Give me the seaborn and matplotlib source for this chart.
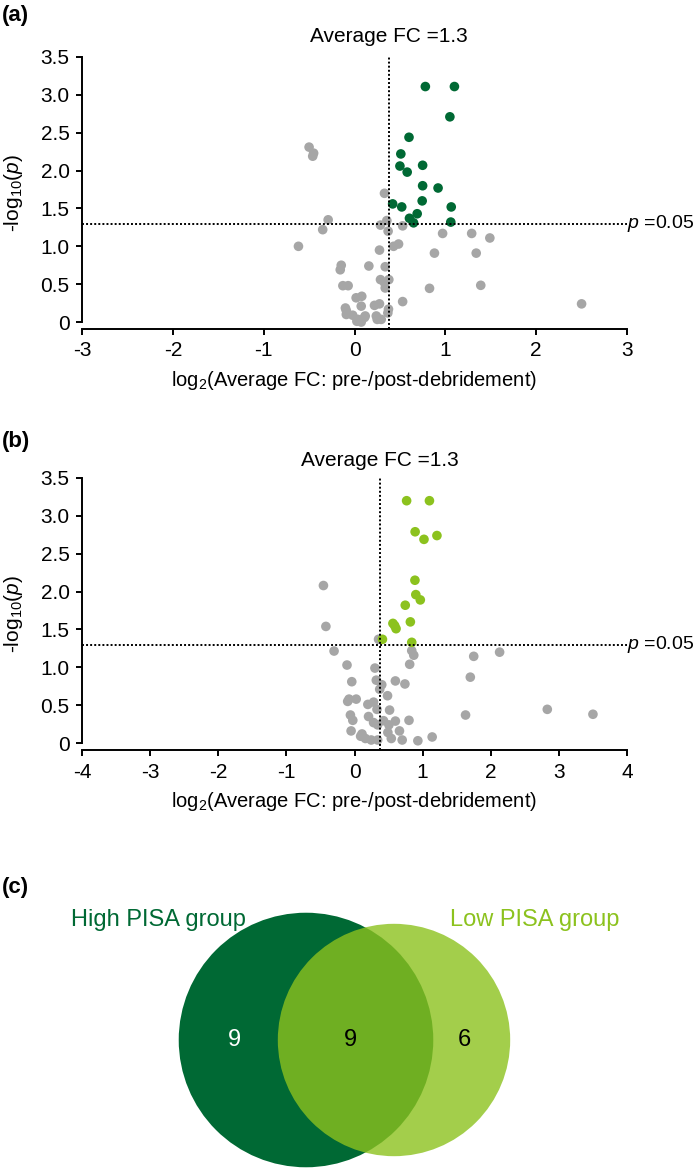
import numpy as np
import pandas as pd
import matplotlib
matplotlib.use('Agg')
import matplotlib.pyplot as plt
from matplotlib.patches import Circle
import seaborn as sns

# ---- data ----
# panel (a): high PISA group
a_sig_x = [0.78, 1.10, 1.05, 0.60, 0.51, 0.50, 0.75, 0.58, 0.75, 0.92,
           0.745, 0.42, 0.52, 1.065, 0.69, 0.605, 0.65, 1.06]
a_sig_y = [3.11, 3.11, 2.71, 2.44, 2.22, 2.06, 2.07, 1.98, 1.80, 1.77,
           1.60, 1.56, 1.52, 1.52, 1.43, 1.37, 1.31, 1.32]
a_ns_x = [-0.50, -0.45, -0.46, 0.33, -0.29, -0.35, 0.356, 0.286, 0.53, 0.37,
          0.97, 1.29, 1.49, 0.485, 0.43, 0.275, 0.88, 1.34, -0.617,
          -0.146, -0.157, 0.158, 0.338, 0.286, 0.378, -0.128, -0.07, 0.338,
          0.826, 1.39, 0.33, 0.018, 0.08, 0.53, 2.50, -0.10, 0.074, 0.22,
          0.275, 0.374, -0.09, -0.02, 0.118, 0.24, 0.294, 0.026, 0.074,
          0.25, 0.367, -0.09, 0.11, 0.037]
a_ns_y = [2.31, 2.23, 2.19, 1.70, 1.35, 1.22, 1.34, 1.28, 1.27, 1.20,
          1.17, 1.17, 1.11, 1.03, 1.00, 0.95, 0.91, 0.91, 1.00,
          0.75, 0.69, 0.74, 0.73, 0.56, 0.56, 0.48, 0.48, 0.45,
          0.445, 0.485, 0.52, 0.32, 0.34, 0.27, 0.24, 0.185, 0.21, 0.22,
          0.24, 0.17, 0.10, 0.09, 0.08, 0.08, 0.035, 0.01, 0.0,
          0.035, 0.12, 0.15, 0.06, 0.035]

# panel (b): low PISA group
b_sig_x = [0.765, 1.10, 0.89, 1.02, 1.21, 0.887, 0.90, 0.966, 0.745, 0.564,
           0.61, 0.82, 0.41, 0.84, 0.59]
b_sig_y = [3.20, 3.20, 2.79, 2.69, 2.74, 2.15, 1.96, 1.89, 1.82, 1.58,
           1.51, 1.60, 1.37, 1.33, 1.55]
b_ns_x = [-0.456, -0.42, -0.30, 0.353, 0.84, 0.87, 1.75, 2.13, -0.11, 0.30,
          0.81, 1.70, -0.04, 0.32, 0.60, 0.40, 0.37, 0.74, 0.485, -0.08,
          0.025, -0.10, 0.196, 0.28, 0.33, 0.515, 2.83, 3.50, 1.63, -0.06,
          -0.025, 0.206, 0.28, 0.34, 0.426, 0.505, 0.60, 0.80, -0.05, 0.11,
          0.16, 0.245, 0.34, 0.49, 0.54, 0.66, 0.70, 0.93, 1.14, 0.09]
b_ns_y = [2.08, 1.54, 1.215, 1.37, 1.22, 1.16, 1.145, 1.20, 1.03, 0.99,
          1.04, 0.87, 0.81, 0.83, 0.82, 0.77, 0.71, 0.78, 0.625, 0.58,
          0.58, 0.55, 0.51, 0.54, 0.445, 0.435, 0.445, 0.38, 0.37, 0.37,
          0.30, 0.35, 0.27, 0.24, 0.295, 0.24, 0.29, 0.30, 0.16, 0.12,
          0.06, 0.04, 0.04, 0.14, 0.06, 0.16, 0.04, 0.03, 0.08, 0.09]

fc_cut = 1.3
p_cut = 0.05

# panel (c): venn counts
venn_only_high = 9
venn_both = 9
venn_only_low = 6
venn_names = ['High PISA group', 'Low PISA group']

# ---- style ----
sns.set_theme(style='ticks')
plt.rcParams['font.family'] = ['Liberation Sans', 'DejaVu Sans']
plt.rcParams['mathtext.fontset'] = 'custom'
plt.rcParams['mathtext.rm'] = 'Liberation Sans'
plt.rcParams['mathtext.it'] = 'Liberation Sans:italic'
plt.rcParams['axes.unicode_minus'] = False
plt.rcParams['text.color'] = 'black'

dark_green = '#006934'
light_green = '#8CC21E'
grey = '#A6A6A6'

fig = plt.figure(figsize=(6.97, 11.68), dpi=100)
W, H = 697, 1168


def volcano(ax, sig_x, sig_y, ns_x, ns_y, sig_color, xmax, title_y):
    df = pd.DataFrame({
        'x': ns_x + sig_x,
        'y': ns_y + sig_y,
        'grp': ['ns'] * len(ns_x) + ['sig'] * len(sig_x),
    })
    sns.scatterplot(data=df, x='x', y='y', hue='grp',
                    palette={'ns': grey, 'sig': sig_color},
                    s=48, linewidth=0, legend=False, ax=ax, zorder=3)
    vx = np.log2(fc_cut)
    hy = -np.log10(p_cut)
    dot = (0, (1, 1.1))
    ax.axvline(vx, color='black', lw=1.4, ls=dot, zorder=4)
    ax.axhline(hy, color='black', lw=1.4, ls=dot, zorder=4)

    ax.set_xlim(-xmax, xmax)
    ax.set_ylim(-0.092, 3.5)
    ax.set_xticks(np.arange(-xmax, xmax + 1, 1))
    ax.set_yticks([0, 0.5, 1.0, 1.5, 2.0, 2.5, 3.0, 3.5])
    ax.set_yticklabels(['0', '0.5', '1.0', '1.5', '2.0', '2.5', '3.0', '3.5'])
    ax.spines['left'].set_bounds(0, 3.5)
    for s in ['top', 'right']:
        ax.spines[s].set_visible(False)
    for s in ['left', 'bottom']:
        ax.spines[s].set_linewidth(1.4)
        ax.spines[s].set_color('black')
    ax.tick_params(direction='out', length=4, width=1.4, colors='black',
                   labelsize=15, pad=5)
    ax.set_xlabel(r'log$_2$(Average FC: pre-/post-debridement)',
                  fontsize=14.5, labelpad=6, color='black')
    ax.set_ylabel(r'-log$_{10}$($p$)', fontsize=15, labelpad=11, color='black')

    ax.annotate('Average FC =%.1f' % fc_cut, xy=(vx, title_y),
                xycoords=('data', 'axes fraction'), ha='center', va='center',
                fontsize=15)
    ax.annotate(r'$p$ =%.2f' % p_cut, xy=(1.0, hy),
                xycoords=('axes fraction', 'data'), xytext=(0.3, 0),
                textcoords='offset points', ha='left', va='center',
                fontsize=14, annotation_clip=False)


ax_a = fig.add_axes([82 / W, 1 - 329 / H, 545 / W, 272 / H])
volcano(ax_a, a_sig_x, a_sig_y, a_ns_x, a_ns_y, dark_green, 3, 1.077)

ax_b = fig.add_axes([82 / W, 1 - 750 / H, 545 / W, 272 / H])
volcano(ax_b, b_sig_x, b_sig_y, b_ns_x, b_ns_y, light_green, 4, 1.0625)

fig.text(2 / W, 1 - 15 / H, '(a)', ha='left', va='center', fontsize=16,
         fontweight='bold')
fig.text(2 / W, 1 - 442 / H, '(b)', ha='left', va='center', fontsize=16,
         fontweight='bold')
fig.text(2 / W, 1 - 887 / H, '(c)', ha='left', va='center', fontsize=16,
         fontweight='bold')

# ---- venn ----
ax_c = fig.add_axes([0, 0, 1, 330 / H])
ax_c.set_xlim(0, W)
ax_c.set_ylim(0, 330)
ax_c.axis('off')

k = 30.0
n_high = venn_only_high + venn_both
n_low = venn_only_low + venn_both
r_high = k * np.sqrt(n_high)
r_low = k * np.sqrt(n_low)
cy = 128
cx_high, cx_low = 306, 394
ax_c.add_patch(Circle((cx_high, cy), r_high, facecolor=dark_green,
                      edgecolor='none'))
ax_c.add_patch(Circle((cx_low, cy), r_low, facecolor=light_green,
                      edgecolor='none', alpha=0.8))
ax_c.text(234, cy, str(venn_only_high), color='white', fontsize=17,
          ha='center', va='center')
ax_c.text(350, cy, str(venn_both), color='black', fontsize=17,
          ha='center', va='center')
ax_c.text(464, cy, str(venn_only_low), color='black', fontsize=17,
          ha='center', va='center')
ax_c.text(158, 248, venn_names[0], color=dark_green, fontsize=17,
          ha='center', va='center')
ax_c.text(535, 248, venn_names[1], color=light_green, fontsize=17,
          ha='center', va='center')

fig.savefig('out.png', dpi=100)
